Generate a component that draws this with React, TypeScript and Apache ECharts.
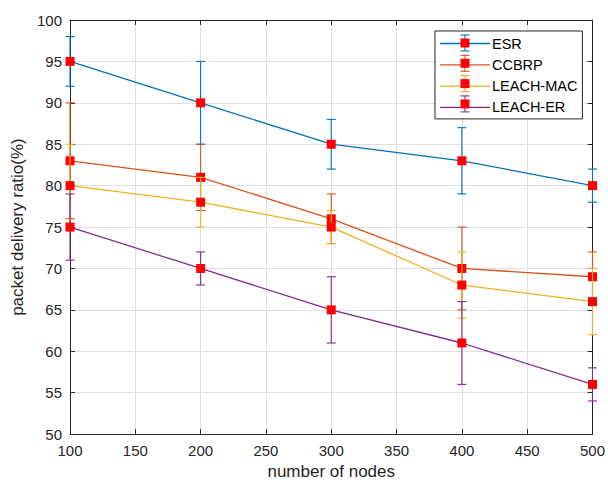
import React, { useEffect, useRef } from "react";
import * as echarts from "echarts";

const nodes = [100, 200, 300, 400, 500];
const seriesNames = ["ESR", "CCBRP", "LEACH-MAC", "LEACH-ER"];
const seriesColors = ["#0072BD", "#D95319", "#EDB120", "#7E2F8E"];

const esr = [95, 90, 85, 83, 80];
const esrLow = [92, 85, 82, 79, 78];
const esrHigh = [98, 95, 88, 87, 82];

const ccbrp = [83, 81, 76, 70, 69];
const ccbrpLow = [76, 77, 73, 65, 66];
const ccbrpHigh = [90, 85, 79, 75, 72];

const leachMac = [80, 78, 75, 68, 66];
const leachMacLow = [75, 75, 73, 64, 62];
const leachMacHigh = [85, 81, 77, 72, 70];

const leachEr = [75, 70, 65, 61, 56];
const leachErLow = [71, 68, 61, 56, 54];
const leachErHigh = [79, 72, 69, 66, 58];

const values = [esr, ccbrp, leachMac, leachEr];
const lows = [esrLow, ccbrpLow, leachMacLow, leachErLow];
const highs = [esrHigh, ccbrpHigh, leachMacHigh, leachErHigh];

const FONT = "'Liberation Sans', Arial, sans-serif";
const TEXT = "#262626";

export default function App() {
  const ref = useRef<HTMLDivElement>(null);
  useEffect(() => {
    if (!ref.current) return;
    const chart = echarts.init(ref.current, null, { renderer: "svg" });
    const series: any[] = [];
    seriesNames.forEach((name, i) => {
      const color = seriesColors[i];
      series.push({
        type: "custom",
        name: name + " error",
        z: 2 + i * 2,
        data: nodes.map((x, k) => [x, lows[i][k], highs[i][k]]),
        renderItem: (params: any, api: any) => {
          const x = api.value(0);
          const pLo = api.coord([x, api.value(1)]);
          const pHi = api.coord([x, api.value(2)]);
          const w = 4.5;
          const st = { stroke: color, lineWidth: 1.1 };
          return {
            type: "group",
            children: [
              { type: "line", shape: { x1: pLo[0], y1: pLo[1], x2: pHi[0], y2: pHi[1] }, style: st },
              { type: "line", shape: { x1: pLo[0] - w, y1: pLo[1], x2: pLo[0] + w, y2: pLo[1] }, style: st },
              { type: "line", shape: { x1: pHi[0] - w, y1: pHi[1], x2: pHi[0] + w, y2: pHi[1] }, style: st },
            ],
          };
        },
        clip: false,
      });
      series.push({
        type: "line",
        name,
        z: 3 + i * 2,
        data: nodes.map((x, k) => [x, values[i][k]]),
        symbol: "rect",
        symbolSize: 9,
        showAllSymbol: true,
        itemStyle: { color: "#FF0000" },
        lineStyle: { color, width: 1.3 },
        clip: false,
      });
    });

    const legendTop = 36;
    const legendGap = 20.3;
    const graphics: any[] = [];
    seriesNames.forEach((_, i) => {
      const cy = legendTop + 7 + i * legendGap;
      const st = { stroke: seriesColors[i], lineWidth: 1.1 };
      graphics.push(
        { type: "line", z: 100, shape: { x1: 465, y1: cy - 8, x2: 465, y2: cy + 8 }, style: st },
        { type: "line", z: 100, shape: { x1: 460.5, y1: cy - 8, x2: 469.5, y2: cy - 8 }, style: st },
        { type: "line", z: 100, shape: { x1: 460.5, y1: cy + 8, x2: 469.5, y2: cy + 8 }, style: st },
        { type: "rect", z: 101, shape: { x: 460.5, y: cy - 4.5, width: 9, height: 9 }, style: { fill: "#FF0000" } }
      );
    });

    const axisCommon = {
      axisLine: { show: true, lineStyle: { color: TEXT, width: 1 } },
      axisTick: { show: true, inside: true, length: 5, lineStyle: { color: TEXT } },
    };

    chart.setOption({
      animation: false,
      backgroundColor: "#ffffff",
      textStyle: { fontFamily: FONT },
      grid: { left: 70, right: 11, top: 20, bottom: 49, containLabel: false },
      legend: {
        data: seriesNames.map((n, i) => ({
          name: n,
          itemStyle: { color: seriesColors[i] },
        })),
        orient: "vertical",
        left: 435,
        top: 31,
        padding: [5, 5, 4, 5],
        itemWidth: 50,
        itemHeight: 14,
        itemGap: 6.3,
        backgroundColor: "#ffffff",
        borderColor: TEXT,
        borderWidth: 1,
        borderRadius: 0,
        icon: "path://M0,7L50,7L50,8.3L0,8.3Z",
        textStyle: { fontFamily: FONT, fontSize: 14.5, color: "#000000", padding: [0, 0, 0, -3] },
        selectedMode: false,
      },
      xAxis: [
        {
          type: "value",
          min: 100,
          max: 500,
          interval: 50,
          name: "number of nodes",
          nameLocation: "middle",
          nameGap: 25,
          nameTextStyle: { fontFamily: FONT, fontSize: 17, color: TEXT },
          axisLabel: { fontFamily: FONT, fontSize: 15, color: TEXT, margin: 9 },
          splitLine: { show: true, lineStyle: { color: "#e0e0e0", width: 1 } },
          ...axisCommon,
        },
        {
          type: "value",
          position: "top",
          min: 100,
          max: 500,
          interval: 50,
          axisLabel: { show: false },
          splitLine: { show: false },
          ...axisCommon,
        },
      ],
      yAxis: [
        {
          type: "value",
          min: 50,
          max: 100,
          interval: 5,
          name: "packet delivery ratio(%)",
          nameLocation: "middle",
          nameGap: 39,
          nameTextStyle: { fontFamily: FONT, fontSize: 17, color: TEXT },
          axisLabel: { fontFamily: FONT, fontSize: 15, color: TEXT, margin: 8 },
          splitLine: { show: true, lineStyle: { color: "#e0e0e0", width: 1 } },
          ...axisCommon,
        },
        {
          type: "value",
          position: "right",
          min: 50,
          max: 100,
          interval: 5,
          axisLabel: { show: false },
          splitLine: { show: false },
          ...axisCommon,
        },
      ],
      series,
      graphic: graphics,
    });
    return () => chart.dispose();
  }, []);
  return (
    <div
      ref={ref}
      style={{ position: "fixed", left: 0, top: 0, width: 608, height: 485 }}
    />
  );
}
